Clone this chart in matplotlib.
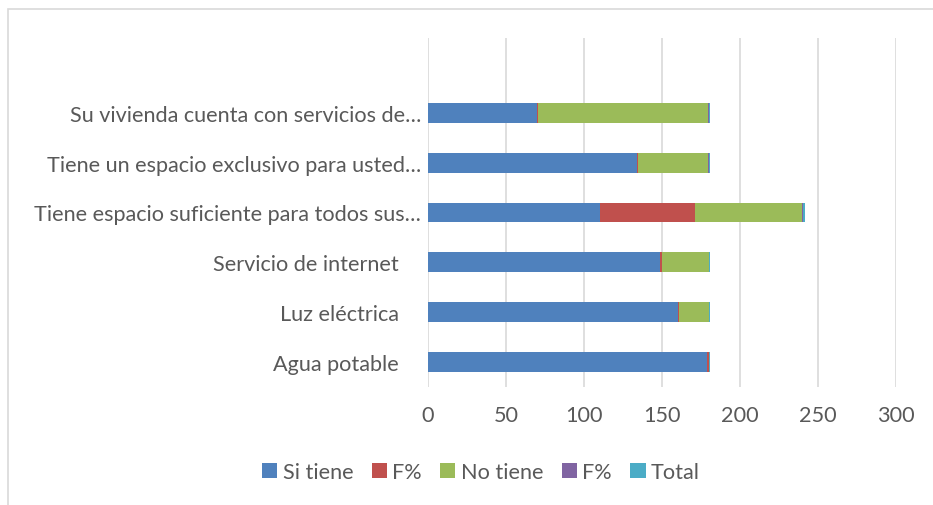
import matplotlib.pyplot as plt
from matplotlib.patches import Rectangle

plt.rcParams['font.family'] = ['Lato', 'DejaVu Sans']

# Data (bottom to top, as drawn)
categorias = ['Agua potable\u00a0\u00a0\u00a0\u00a0',
              'Luz eléctrica\u00a0\u00a0\u00a0\u00a0',
              'Servicio de internet\u00a0\u00a0\u00a0\u00a0',
              'Tiene espacio suficiente para todos sus…',
              'Tiene un espacio exclusivo para usted…',
              'Su vivienda cuenta con servicios de…']
si_tiene = [179, 160, 149, 110, 134, 70]
f_si = [0.99, 0.89, 0.83, 61, 0.74, 0.39]
no_tiene = [0, 19, 30, 69, 45, 109]
f_no = [0.01, 0.11, 0.17, 0.38, 0.25, 0.61]
total = [1, 1, 1, 1, 1, 1]

series = [('Si tiene', si_tiene, '#4F81BD'),
          ('F%', f_si, '#C0504D'),
          ('No tiene', no_tiene, '#9BBB59'),
          ('F%', f_no, '#8064A2'),
          ('Total', total, '#4BACC6')]

text_color = '#595959'
grid_color = '#D9D9D9'

fig = plt.figure(figsize=(9.33, 5.06), dpi=100)
ax = fig.add_axes([428 / 933, 1 - 388 / 506, 468 / 933, 349 / 506])

# outer chart frame
fig.patches.append(Rectangle((8 / 933, -0.1), 1.2, 1 - 10 / 506 + 0.1,
                             transform=fig.transFigure, fill=False,
                             edgecolor=grid_color, linewidth=1.2))

pos = list(range(len(categorias)))
left = [0] * len(categorias)
for name, vals, color in series:
    ax.barh(pos, vals, left=left, height=0.4, color=color, label=name, zorder=3)
    left = [l + v for l, v in zip(left, vals)]

ax.set_xlim(0, 300)
ax.set_ylim(-0.5, 6.5)
ax.set_xticks(range(0, 301, 50))
ax.set_yticks(pos)
ax.set_yticklabels(categorias)
ax.grid(axis='x', color=grid_color, linewidth=1.2, zorder=0)
for s in ax.spines.values():
    s.set_visible(False)
ax.tick_params(length=0, labelsize=15.6, colors=text_color)
ax.tick_params(axis='x', pad=13)
ax.tick_params(axis='y', pad=5)

fig.legend(loc='center', bbox_to_anchor=(481 / 933, 1 - 473 / 506), ncol=5,
           frameon=False, fontsize=15.6, labelcolor=text_color,
           handlelength=0.7, handleheight=0.7, handletextpad=0.25,
           columnspacing=0.85)

plt.savefig('out.png', dpi=100)
